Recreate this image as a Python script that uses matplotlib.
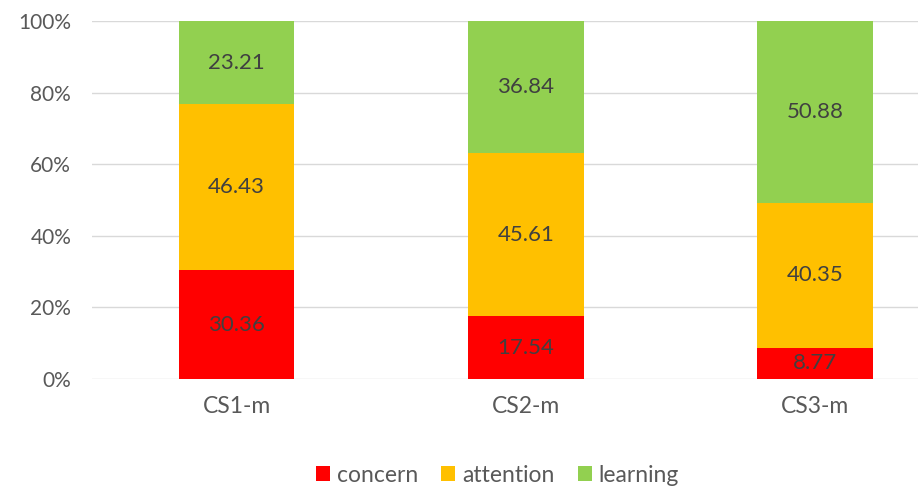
import matplotlib
matplotlib.use("Agg")
import matplotlib.pyplot as plt
from matplotlib.ticker import FuncFormatter
from matplotlib.patches import Patch

categories = ["CS1-m", "CS2-m", "CS3-m"]
concern = [30.36, 17.54, 8.77]
attention = [46.43, 45.61, 40.35]
learning = [23.21, 36.84, 50.88]
series_names = ["concern", "attention", "learning"]
colors = ["#FF0000", "#FFC000", "#92D050"]

plt.rcParams['font.family'] = ['Lato', 'DejaVu Sans']

fig = plt.figure(figsize=(9.18, 4.87), dpi=100)
W, H = 918, 487
ax = fig.add_axes([92 / W, (H - 379) / H, (918 - 92) / W, (379 - 21) / H])

x = list(range(len(categories)))
width = 0.40
bottoms = [0.0] * len(categories)
for vals, name, col in zip([concern, attention, learning], series_names, colors):
    ax.bar(x, vals, width, bottom=bottoms, color=col, label=name, zorder=3)
    for xi, v, b in zip(x, vals, bottoms):
        ax.text(xi, b + v / 2, f"{v:.2f}", ha="center", va="center",
                fontsize=16, color="#404040", zorder=4)
    bottoms = [b + v for b, v in zip(bottoms, vals)]

ax.set_ylim(0, 100)
ax.set_xlim(-0.5, 2.5 - (959.5 - 918) / 289)
ax.set_yticks([0, 20, 40, 60, 80, 100])
ax.yaxis.set_major_formatter(FuncFormatter(lambda v, p: f"{int(v)}%"))
ax.set_xticks(x)
ax.set_xticklabels(categories)
ax.tick_params(axis="both", length=0, colors="#595959")
ax.tick_params(axis="y", pad=15, labelsize=15)
ax.tick_params(axis="x", pad=12, labelsize=16.5)
ax.grid(axis="y", color="#D9D9D9", linewidth=1, zorder=0)
for s in ax.spines.values():
    s.set_visible(False)

handles = [Patch(facecolor=c, label=n) for c, n in zip(colors, series_names)]
fig.legend(handles=handles, loc="center", bbox_to_anchor=(0.542, 1 - 475 / H), ncol=3,
           frameon=False, fontsize=16.5, labelcolor="#595959", handlelength=0.62,
           handleheight=0.62, handletextpad=0.3, columnspacing=1.0)

fig.savefig("out.png", dpi=100)
